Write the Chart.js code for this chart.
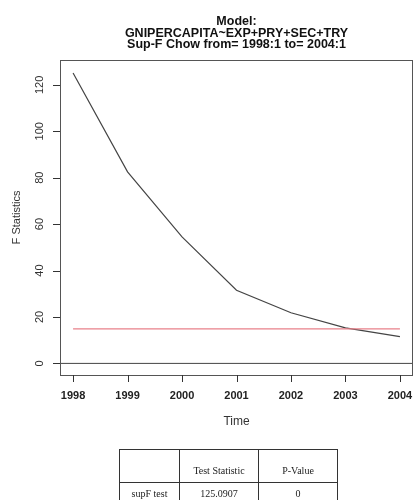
<!DOCTYPE html>
<html>
<head>
  <meta charset="utf-8">
  <title>Sup-F Chow test</title>
  <script src="https://cdn.jsdelivr.net/npm/chart.js"></script>
  <style>
    body { margin: 0; background: #fff; }
    #wrap { position: relative; width: 415px; height: 500px; overflow: hidden; }
    #fChart { position: absolute; left: 0; top: 0; }
    table.res {
      position: absolute; left: 119px; top: 449px;
      border-collapse: collapse;
      font-family: "Liberation Serif", "DejaVu Serif", serif;
      font-size: 10px; color: #222;
    }
    table.res td { border: 1px solid #333; text-align: center; padding: 0; }
    table.res tr.head td { height: 26px; vertical-align: bottom; padding-bottom: 6px; }
    table.res tr.row td { height: 22px; vertical-align: top; padding-top: 5px; }
  </style>
</head>
<body>
<div id="wrap">
  <canvas id="fChart" width="415" height="500"></canvas>
  <table class="res">
    <tr class="head"><td style="width:59px"></td><td style="width:78px">Test Statistic</td><td style="width:78px">P-Value</td></tr>
    <tr class="row"><td>supF test</td><td>125.0907</td><td>0</td></tr>
  </table>
</div>
<script>
const years = [1998, 1999, 2000, 2001, 2002, 2003, 2004];
const fStats = [125.09, 82.5, 54.5, 31.5, 21.8, 15.3, 11.5];
const critValue = 14.9;
const yTicks = [0, 20, 40, 60, 80, 100, 120];
const titleLines = ["Model:", "GNIPERCAPITA~EXP+PRY+SEC+TRY", "Sup-F Chow from= 1998:1 to= 2004:1"];

const xMin = 1997.76, xMax = 2004.24;

// R-style frame, tick marks, rotated y labels and titles
const rStyle = {
  id: 'rStyle',
  afterDraw(chart) {
    const ctx = chart.ctx;
    const a = chart.chartArea;
    const xs = chart.scales.x;
    const ys = chart.scales.y;
    ctx.save();
    ctx.strokeStyle = '#555';
    ctx.lineWidth = 1;
    ctx.strokeRect(a.left + 0.5, a.top + 0.5, a.right - a.left - 1, a.bottom - a.top);

    ctx.strokeStyle = '#333';
    ctx.beginPath();
    for (const v of years) {
      const px = Math.round(xs.getPixelForValue(v)) + 0.5;
      ctx.moveTo(px, a.bottom);
      ctx.lineTo(px, a.bottom + 7);
    }
    for (const v of yTicks) {
      const py = Math.round(ys.getPixelForValue(v)) + 0.5;
      ctx.moveTo(a.left, py);
      ctx.lineTo(a.left - 7, py);
    }
    ctx.stroke();

    ctx.fillStyle = '#333';
    ctx.font = '11px "Liberation Sans", Arial, sans-serif';
    ctx.textAlign = 'center';
    ctx.textBaseline = 'middle';
    for (const v of yTicks) {
      const py = ys.getPixelForValue(v);
      ctx.save();
      ctx.translate(40, py);
      ctx.rotate(-Math.PI / 2);
      ctx.fillText(String(v), 0, 0);
      ctx.restore();
    }
    ctx.save();
    ctx.translate(17, (a.top + a.bottom) / 2);
    ctx.rotate(-Math.PI / 2);
    ctx.fillText('F Statistics', 0, 0);
    ctx.restore();

    const cx = (a.left + a.right) / 2;
    ctx.font = '12px "Liberation Sans", Arial, sans-serif';
    ctx.fillText('Time', cx, 422);

    ctx.fillStyle = '#111';
    ctx.font = 'bold 12.5px "Liberation Sans", Arial, sans-serif';
    titleLines.forEach((t, i) => ctx.fillText(t, cx, 22 + i * 11.5));
    ctx.restore();
  }
};

new Chart(document.getElementById('fChart'), {
  type: 'line',
  data: {
    datasets: [
      {
        label: 'zero',
        data: [{x: xMin, y: 0}, {x: xMax, y: 0}],
        borderColor: '#444',
        borderWidth: 1,
        pointRadius: 0
      },
      {
        label: 'critical value',
        data: [{x: years[0], y: critValue}, {x: years[years.length - 1], y: critValue}],
        borderColor: '#e8808a',
        borderWidth: 1.3,
        pointRadius: 0
      },
      {
        label: 'F statistics',
        data: years.map((yr, i) => ({x: yr, y: fStats[i]})),
        borderColor: '#444',
        borderWidth: 1.2,
        pointRadius: 0,
        tension: 0
      }
    ]
  },
  options: {
    responsive: false,
    animation: false,
    layout: { padding: { top: 60, right: 2, left: 0, bottom: 0 } },
    plugins: { legend: { display: false }, tooltip: { enabled: false }, title: { display: false } },
    scales: {
      x: {
        type: 'linear',
        min: xMin,
        max: xMax,
        afterBuildTicks: (s) => { s.ticks = years.map(v => ({value: v})); },
        afterFit: (s) => { s.height = 125; s.paddingLeft = 0; s.paddingRight = 0; },
        grid: { display: true, drawOnChartArea: false, tickLength: 7, color: 'rgba(0,0,0,0)' },
        border: { display: false },
        ticks: {
          padding: 7,
          maxRotation: 0,
          color: '#222',
          font: { family: '"Liberation Sans", Arial, sans-serif', size: 11, weight: 'bold' },
          callback: (v) => String(v)
        }
      },
      y: {
        min: -5,
        max: 130.7,
        afterBuildTicks: (s) => { s.ticks = yTicks.map(v => ({value: v})); },
        afterFit: (s) => { s.width = 60; },
        grid: { display: false, drawOnChartArea: false },
        border: { display: false },
        ticks: { display: false }
      }
    }
  },
  plugins: [rStyle]
});
</script>
</body>
</html>
